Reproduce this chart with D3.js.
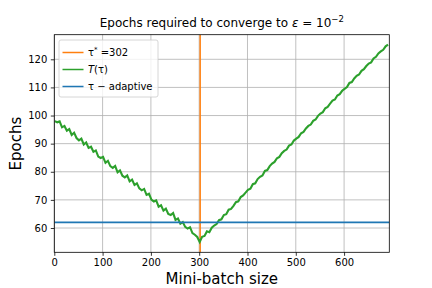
<!DOCTYPE html>
<html><head><meta charset="utf-8">
<script src="https://cdn.jsdelivr.net/npm/d3@7"></script>
<style>body{margin:0;background:#fff}svg{display:block}text{font-family:"DejaVu Sans",sans-serif;fill:#000}</style>
</head><body><svg id="c" width="432" height="288"></svg>
<script>
const batchSizes = [1,6,11,16,21,26,31,36,41,46,51,56,61,66,71,76,81,86,91,96,101,106,111,116,121,126,131,136,141,146,151,156,161,166,171,176,181,186,191,196,201,206,211,216,221,226,231,236,241,246,251,256,261,266,271,276,281,286,291,296,301,306,311,316,321,326,331,336,341,346,351,356,361,366,371,376,381,386,391,396,401,406,411,416,421,426,431,436,441,446,451,456,461,466,471,476,481,486,491,496,501,506,511,516,521,526,531,536,541,546,551,556,561,566,571,576,581,586,591,596,601,606,611,616,621,626,631,636,641,646,651,656,661,666,671,676,681,686,691];
const epochs = [98.0,97.6,97.9,95.8,96.3,94.6,95.2,93.1,93.9,92.0,91.2,91.8,89.7,90.4,88.5,88.9,87.1,87.6,85.4,84.9,85.3,83.2,83.9,82.0,81.4,82.1,79.8,80.5,78.6,78.0,78.7,76.6,77.2,75.3,75.9,74.1,73.4,73.9,71.8,72.2,70.1,69.4,69.8,67.6,68.1,66.2,66.9,65.0,64.6,65.3,62.9,63.4,61.5,62.1,60.4,59.8,60.3,58.2,57.6,56.8,55.0,56.9,57.2,58.8,58.5,60.1,60.9,61.4,62.8,63.1,64.6,64.9,66.5,66.8,67.9,69.2,69.5,71.0,71.6,72.6,73.6,74.0,75.6,75.9,77.4,78.2,78.7,80.3,80.6,82.0,82.9,83.5,84.8,85.3,86.6,87.4,87.9,89.3,89.7,91.1,91.8,92.4,93.7,94.2,95.4,96.3,96.8,98.1,98.6,99.9,100.7,101.2,102.6,103.1,104.2,105.3,105.7,107.1,107.6,108.8,109.5,110.1,111.6,111.9,113.2,114.1,114.6,115.9,116.5,117.6,118.5,118.9,120.3,120.9,122.1,122.8,123.4,124.6,125.2];
const tauStar = 302;
const adaptiveEpochs = 62;
const xTicks = [0,100,200,300,400,500,600];
const yTicks = [60,70,80,90,100,110,120];
const legendLabels = ["τ*", "T(τ)", "τ − adaptive"];
const colors = {orange:"#ff7f0e", green:"#2ca02c", blue:"#1f77b4"};

const svg = d3.select("#c");
const L = 54.3, R = 389.3, T = 34.7, B = 252.3;
const x = d3.scaleLinear().domain([0, 693.6]).range([L, R]);
const y = d3.scaleLinear().domain([51.36, 128.75]).range([B, T]);

// grid
const grid = svg.append("g").attr("stroke", "#b0b0b0").attr("stroke-width", 0.8);
xTicks.forEach(t => grid.append("line").attr("x1", x(t)).attr("x2", x(t)).attr("y1", T).attr("y2", B));
yTicks.forEach(t => grid.append("line").attr("y1", y(t)).attr("y2", y(t)).attr("x1", L).attr("x2", R));

svg.append("defs").append("clipPath").attr("id", "clp").append("rect")
  .attr("x", L).attr("y", T).attr("width", R - L).attr("height", B - T);
const plot = svg.append("g").attr("clip-path", "url(#clp)");

plot.append("line").attr("x1", x(tauStar)).attr("x2", x(tauStar)).attr("y1", T).attr("y2", B)
  .attr("stroke", colors.orange).attr("stroke-width", 1.5);
const line = d3.line().x((d, i) => x(batchSizes[i])).y(d => y(d));
plot.append("path").datum(epochs).attr("d", line).attr("fill", "none")
  .attr("stroke", colors.green).attr("stroke-width", 2.1).attr("stroke-linejoin", "miter");
plot.append("line").attr("x1", L).attr("x2", R).attr("y1", y(adaptiveEpochs)).attr("y2", y(adaptiveEpochs))
  .attr("stroke", colors.blue).attr("stroke-width", 1.6);

// axes
const xa = svg.append("g").attr("transform", `translate(0,${B})`)
  .call(d3.axisBottom(x).tickValues(xTicks).tickSize(3.5).tickPadding(3.5).tickFormat(d3.format("d")));
const ya = svg.append("g").attr("transform", `translate(${L},0)`)
  .call(d3.axisLeft(y).tickValues(yTicks).tickSize(3.5).tickPadding(3.5).tickFormat(d3.format("d")));
[xa, ya].forEach(a => {
  a.select(".domain").remove();
  a.selectAll("line").attr("stroke", "#000").attr("stroke-width", 0.8);
  a.selectAll("text").attr("font-size", 10).attr("font-family", "DejaVu Sans").attr("fill", "#000");
});
svg.append("rect").attr("x", L).attr("y", T).attr("width", R - L).attr("height", B - T)
  .attr("fill", "none").attr("stroke", "#000").attr("stroke-width", 0.8);

// title
const title = svg.append("text").attr("x", (L + R) / 2).attr("y", 27).attr("text-anchor", "middle").attr("font-size", 12);
title.append("tspan").text("Epochs required to converge to ");
title.append("tspan").attr("font-style", "italic").text("ε");
title.append("tspan").text(" = 10");
title.append("tspan").attr("font-size", 8.5).attr("dy", -5).text("−2");

svg.append("text").attr("x", (L + R) / 2).attr("y", 284).attr("text-anchor", "middle").attr("font-size", 15).text("Mini-batch size");
svg.append("text").attr("transform", `translate(21,${(T + B) / 2}) rotate(-90)`).attr("text-anchor", "middle").attr("font-size", 15).text("Epochs");

// legend
const lg = svg.append("g");
lg.append("rect").attr("x", 59).attr("y", 40).attr("width", 99).attr("height", 57).attr("rx", 2)
  .attr("fill", "#fff").attr("fill-opacity", 0.8).attr("stroke", "#cccccc").attr("stroke-width", 0.8);
const rows = [52.5, 69.5, 86.5];
const rowColors = [colors.orange, colors.green, colors.blue];
rows.forEach((ry, i) => {
  lg.append("line").attr("x1", 62.5).attr("x2", 83.5).attr("y1", ry).attr("y2", ry)
    .attr("stroke", rowColors[i]).attr("stroke-width", 1.5);
});
const t0 = lg.append("text").attr("x", 88).attr("y", rows[0] + 3.8).attr("font-size", 10);
t0.append("tspan").text("τ");
t0.append("tspan").attr("font-size", 7).attr("dy", -4).text("*");
t0.append("tspan").attr("dy", 4).text(" =" + tauStar);
const t1 = lg.append("text").attr("x", 88).attr("y", rows[1] + 3.8).attr("font-size", 10);
t1.append("tspan").attr("font-style", "italic").text("T");
t1.append("tspan").text("(τ)");
lg.append("text").attr("x", 88).attr("y", rows[2] + 3.8).attr("font-size", 10).text(legendLabels[2]);
</script></body></html>
